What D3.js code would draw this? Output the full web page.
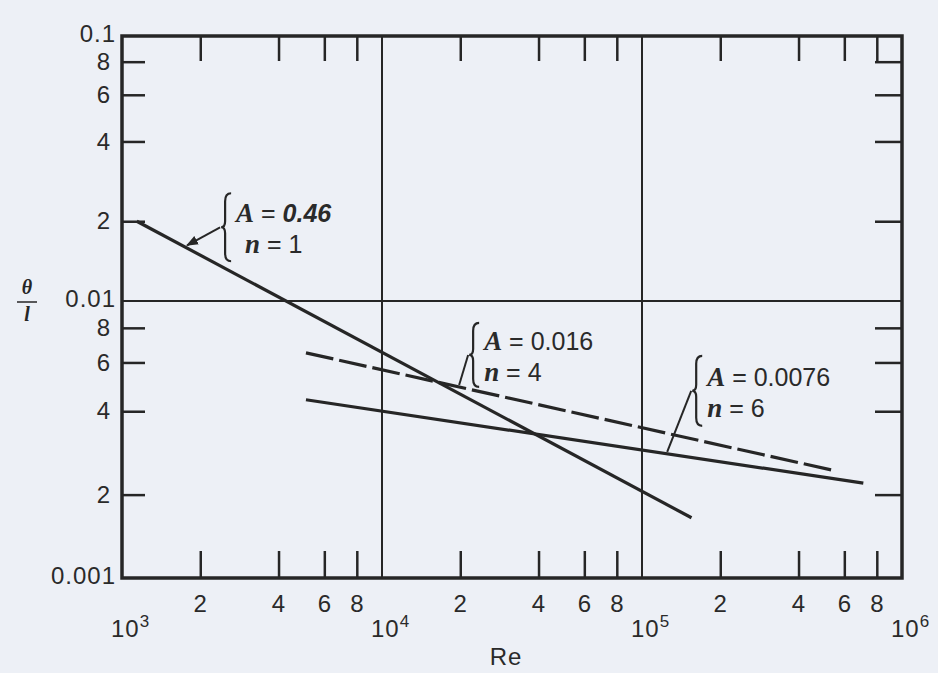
<!DOCTYPE html>
<html>
<head>
<meta charset="utf-8">
<script src="https://cdn.jsdelivr.net/npm/d3@7"></script>
<style>
  body { margin: 0; background: #edf0f6; }
  svg { display: block; }
  .tick-lbl { font-family: "Liberation Sans", Arial, sans-serif; font-size: 24px; letter-spacing: 1px; fill: #2a2a2a; }
  .ann { font-family: "Liberation Sans", Arial, sans-serif; font-size: 25px; fill: #2a2a2a; }
  .var { font-family: "Liberation Serif", "Times New Roman", serif; font-style: italic; font-weight: bold; }
</style>
</head>
<body>
<div id="chart"></div>
<script>
// Re axis (log) decades and minor ticks
const xDecades = [1e3, 1e4, 1e5, 1e6];
const xDecadeExp = ["3", "4", "5", "6"];
const xMinorTicks = [2e3, 4e3, 6e3, 8e3, 2e4, 4e4, 6e4, 8e4, 2e5, 4e5, 6e5, 8e5];
const xMinorLabels = ["2", "4", "6", "8", "2", "4", "6", "8", "2", "4", "6", "8"];

// theta/l axis (log)
const yDecades = [0.001, 0.01, 0.1];
const yDecadeLabels = ["0.001", "0.01", "0.1"];
const yMinorTicks = [0.002, 0.004, 0.006, 0.008, 0.02, 0.04, 0.06, 0.08];
const yMinorLabels = ["2", "4", "6", "8", "2", "4", "6", "8"];

// the three correlations (end points)
const reN1 = [1140, 155000];
const thetaN1 = [0.02, 0.00165];
const reN4 = [5100, 540000];
const thetaN4 = [0.0065, 0.00245];
const reN6 = [5100, 710000];
const thetaN6 = [0.0044, 0.0022];

const W = 938, H = 673;
const pLeft = 122, pRight = 902, pTop = 36, pBottom = 578;

const svg = d3.select("#chart").append("svg")
    .attr("width", W)
    .attr("height", H);

let x = d3.scaleLog().domain([1e3, 1e6]).range([pLeft, pRight]);
// the scan is a bit stretched: lower decade is taller than upper one
let y = d3.scaleLog().domain([0.001, 0.01, 0.1]).range([pBottom, 301, pTop]);

const ink = "#262626";

// grid lines at decades
svg.append("g").selectAll("line")
    .data([1e4, 1e5])
    .enter().append("line")
    .attr("x1", d => x(d)).attr("x2", d => x(d))
    .attr("y1", pTop).attr("y2", pBottom)
    .attr("stroke", ink).attr("stroke-width", 2);

svg.append("g").selectAll("line")
    .data([0.01])
    .enter().append("line")
    .attr("x1", pLeft).attr("x2", pRight)
    .attr("y1", d => y(d)).attr("y2", d => y(d))
    .attr("stroke", ink).attr("stroke-width", 2.2);

// inward minor ticks on all four sides
function styleAxis(g) {
    g.select(".domain").remove();
    g.selectAll(".tick line").attr("stroke", ink).attr("stroke-width", 2.5);
}

svg.append("g")
    .attr("transform", `translate(0,${pBottom})`)
    .call(d3.axisBottom(x).tickValues(xMinorTicks).tickSize(-27).tickPadding(17)
        .tickFormat((d, i) => xMinorLabels[i]))
    .call(styleAxis)
    .call(g => g.attr("font-size", null).attr("font-family", null))
    .selectAll("text").attr("class", "tick-lbl").attr("fill", null);

svg.append("g")
    .attr("transform", `translate(0,${pTop})`)
    .call(d3.axisTop(x).tickValues(xMinorTicks).tickSize(-25).tickFormat(""))
    .call(styleAxis);

svg.append("g")
    .attr("transform", `translate(${pLeft},0)`)
    .call(d3.axisLeft(y).tickValues(yMinorTicks).tickSize(-23).tickPadding(11)
        .tickFormat((d, i) => yMinorLabels[i]))
    .call(styleAxis)
    .call(g => g.attr("font-size", null).attr("font-family", null))
    .selectAll("text").attr("class", "tick-lbl").attr("fill", null);

svg.append("g")
    .attr("transform", `translate(${pRight},0)`)
    .call(d3.axisRight(y).tickValues(yMinorTicks).tickSize(-27).tickFormat(""))
    .call(styleAxis);

// frame
svg.append("rect")
    .attr("x", pLeft).attr("y", pTop)
    .attr("width", pRight - pLeft).attr("height", pBottom - pTop)
    .attr("fill", "none").attr("stroke", ink).attr("stroke-width", 3.5);

// decade labels
svg.append("g").selectAll("text")
    .data(yDecades)
    .enter().append("text")
    .attr("class", "tick-lbl")
    .attr("x", pLeft - 6)
    .attr("y", d => y(d) - 2)
    .attr("dy", "0.35em")
    .attr("text-anchor", "end")
    .text((d, i) => yDecadeLabels[i]);

let xd = svg.append("g").selectAll("text")
    .data(xDecades)
    .enter().append("text")
    .attr("class", "tick-lbl")
    .attr("x", d => x(d) - 11)
    .attr("y", 637);
xd.append("tspan").text("10");
xd.append("tspan").attr("dy", -10).attr("font-size", 17).text((d, i) => xDecadeExp[i]);

// axis titles
svg.append("text")
    .attr("class", "tick-lbl")
    .attr("x", x(3e4)).attr("y", 665)
    .attr("text-anchor", "middle")
    .text("Re");

svg.append("text").attr("class", "var")
    .attr("x", 27).attr("y", 294).attr("text-anchor", "middle")
    .attr("font-size", 20).attr("fill", ink).text("θ");
svg.append("line")
    .attr("x1", 17).attr("x2", 37).attr("y1", 302).attr("y2", 302)
    .attr("stroke", ink).attr("stroke-width", 1.5);
svg.append("text").attr("class", "var")
    .attr("x", 27).attr("y", 321).attr("text-anchor", "middle")
    .attr("font-size", 20).attr("fill", ink).text("l");

// correlation lines
let line = d3.line()
    .x(d => x(d[0]))
    .y(d => y(d[1]));

const series = [
    { re: reN1, th: thetaN1, dash: null },
    { re: reN4, th: thetaN4, dash: "28 6" },
    { re: reN6, th: thetaN6, dash: null }
];

svg.append("g").selectAll("path")
    .data(series)
    .enter().append("path")
    .attr("d", s => line(s.re.map((r, i) => [r, s.th[i]])))
    .attr("fill", "none")
    .attr("stroke", ink)
    .attr("stroke-width", 3.2)
    .attr("stroke-dasharray", d => d.dash);

// annotations: tip on the line (data), brace position (px offset from tip)
function thetaAt(re, rs, ts) {
    const k = Math.log(ts[1] / ts[0]) / Math.log(rs[1] / rs[0]);
    return ts[0] * Math.pow(re / rs[0], k);
}

const notes = [
    { re: 1780, th: thetaAt(1780, reN1, thetaN1), bx: 34, by: -20, h: 68, arrow: true,
      aVal: "0.46", italicVal: true, nVal: "1", nShift: 9 },
    { re: 19800, th: thetaAt(19800, reN4, thetaN4), bx: 10, by: -32, h: 64, arrow: false,
      aVal: "0.016", italicVal: false, nVal: "4", nShift: 0 },
    { re: 125000, th: thetaAt(125000, reN6, thetaN6), bx: 25, by: -63, h: 70, arrow: false,
      aVal: "0.0076", italicVal: false, nVal: "6", nShift: 0 }
];

svg.append("defs").append("marker")
    .attr("id", "head")
    .attr("viewBox", "0 0 10 10")
    .attr("refX", 9).attr("refY", 5)
    .attr("markerWidth", 6).attr("markerHeight", 6)
    .attr("orient", "auto")
    .append("path").attr("d", "M0,1 L10,5 L0,9 Z").attr("fill", ink);

notes.forEach(n => {
    const tx = x(n.re), ty = y(n.th);
    const cx = tx + n.bx, cy = ty + n.by;   // brace tip
    const y0 = cy - n.h / 2, y1 = cy + n.h / 2;
    const bxl = cx + 4, bxr = cx + 10;

    svg.append("path")
        .attr("d", `M${bxr},${y0} Q${bxl},${y0} ${bxl},${y0 + 8} L${bxl},${cy - 6} Q${bxl},${cy} ${cx},${cy}` +
            ` Q${bxl},${cy} ${bxl},${cy + 6} L${bxl},${y1 - 8} Q${bxl},${y1} ${bxr},${y1}`)
        .attr("fill", "none").attr("stroke", ink).attr("stroke-width", 2.2);

    svg.append("line")
        .attr("x1", cx - 1).attr("y1", cy)
        .attr("x2", tx).attr("y2", ty - 2)
        .attr("stroke", ink).attr("stroke-width", 2)
        .attr("marker-end", n.arrow ? "url(#head)" : null);

    let t1 = svg.append("text").attr("class", "ann")
        .attr("x", bxr + 5).attr("y", cy - 5);
    t1.append("tspan").attr("class", "var").attr("font-size", 27).text("A");
    t1.append("tspan").text(" = ");
    let v = t1.append("tspan").text(n.aVal);
    if (n.italicVal) v.attr("font-style", "italic").attr("font-weight", "bold");

    let t2 = svg.append("text").attr("class", "ann")
        .attr("x", bxr + 5 + n.nShift).attr("y", cy + 26);
    t2.append("tspan").attr("class", "var").attr("font-size", 27).text("n");
    t2.append("tspan").text(" = " + n.nVal);
});
</script>
</body>
</html>
